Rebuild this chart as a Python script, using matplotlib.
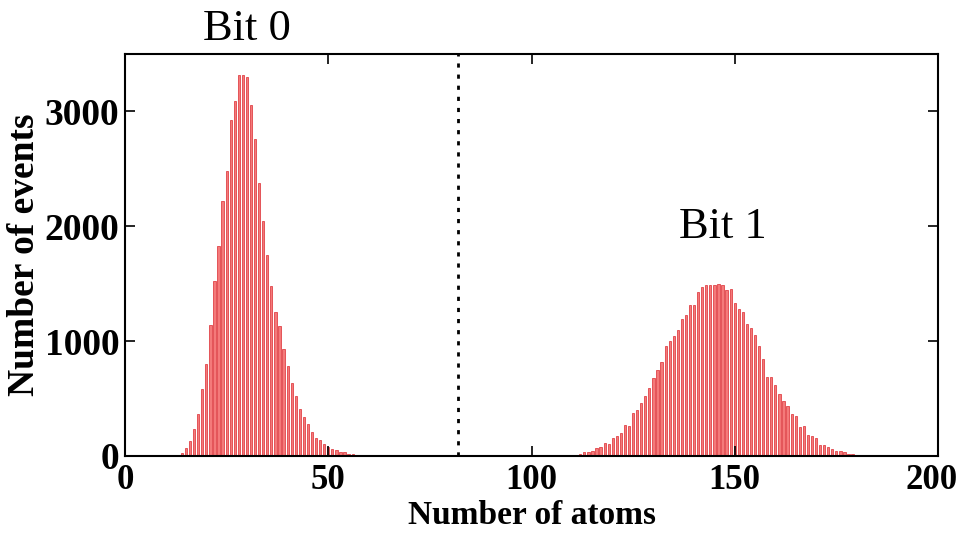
import numpy as np
import matplotlib
matplotlib.use('Agg')
import matplotlib.pyplot as plt
import matplotlib.transforms as mtransforms

# bit 0 histogram (atom number -> events)
bit0_x = list(range(14, 58))
bit0_counts = [23, 72, 125, 232, 368, 586, 797, 1137, 1522, 1827,
               2218, 2480, 2923, 3088, 3315, 3320, 3300, 3060, 2764, 2378,
               2045, 1749, 1479, 1256, 1131, 934, 783, 638, 522, 406,
               334, 276, 209, 151, 139, 107, 78, 58, 52, 35,
               29, 15, 20, 5]

# bit 1 histogram
bit1_x = list(range(110, 182))
bit1_counts = [9, 9, 15, 32, 32, 41, 70, 73, 110, 99,
               154, 177, 198, 267, 264, 372, 401, 459, 523, 590,
               677, 750, 817, 953, 997, 1040, 1098, 1191, 1223, 1311,
               1316, 1427, 1470, 1485, 1485, 1491, 1500, 1491, 1441, 1453,
               1331, 1282, 1252, 1148, 1113, 1055, 953, 843, 686, 686,
               619, 540, 474, 430, 366, 343, 247, 262, 183, 174,
               154, 96, 96, 76, 61, 44, 38, 29, 20, 15,
               9, 6]

threshold = 82
xticks = [0, 50, 100, 150, 200]
yticks = [0, 1000, 2000, 3000]

plt.rcParams['font.family'] = ['Liberation Serif', 'DejaVu Serif']

fig = plt.figure(figsize=(9.62, 5.35), dpi=100)
ax = fig.add_axes([0.130, 0.148, 0.845, 0.751])

    # histogram bars
for xs, ys in [(bit0_x, bit0_counts), (bit1_x, bit1_counts)]:
    ax.bar(xs, ys, width=0.55, color='#f47a7a', edgecolor='#dc2a30', linewidth=0.5)

    # decision threshold
ax.axvline(threshold, color='black', linestyle=(0, (1.5, 2.5)), linewidth=2)

ax.set_xlim(0, 200)
ax.set_ylim(0, 3500)
ax.set_xticks(xticks)
ax.set_yticks(yticks)
ax.tick_params(direction='in', length=7, width=1.2, top=True, right=True, pad=4)
ax.tick_params(axis='x', labelsize=25, pad=6)
ax.tick_params(axis='y', labelsize=27)
for lab in ax.get_xticklabels() + ax.get_yticklabels():
    lab.set_fontweight('bold')
for sp in ax.spines.values():
    sp.set_linewidth(1.5)

    # keep the last x label inside the figure
last = ax.get_xticklabels()[-1]
last.set_transform(last.get_transform() + mtransforms.ScaledTranslation(-6 / 100, 0, fig.dpi_scale_trans))

ax.set_xlabel('Number of atoms', fontsize=24, fontweight='bold', labelpad=2)
ax.set_ylabel('Number of events', fontsize=27, fontweight='bold', labelpad=2)

ax.text(30, 3720, 'Bit 0', fontsize=32, ha='center', va='center', clip_on=False)
ax.text(147, 1990, 'Bit 1', fontsize=32, ha='center', va='center')

fig.savefig('out.png', dpi=100)
